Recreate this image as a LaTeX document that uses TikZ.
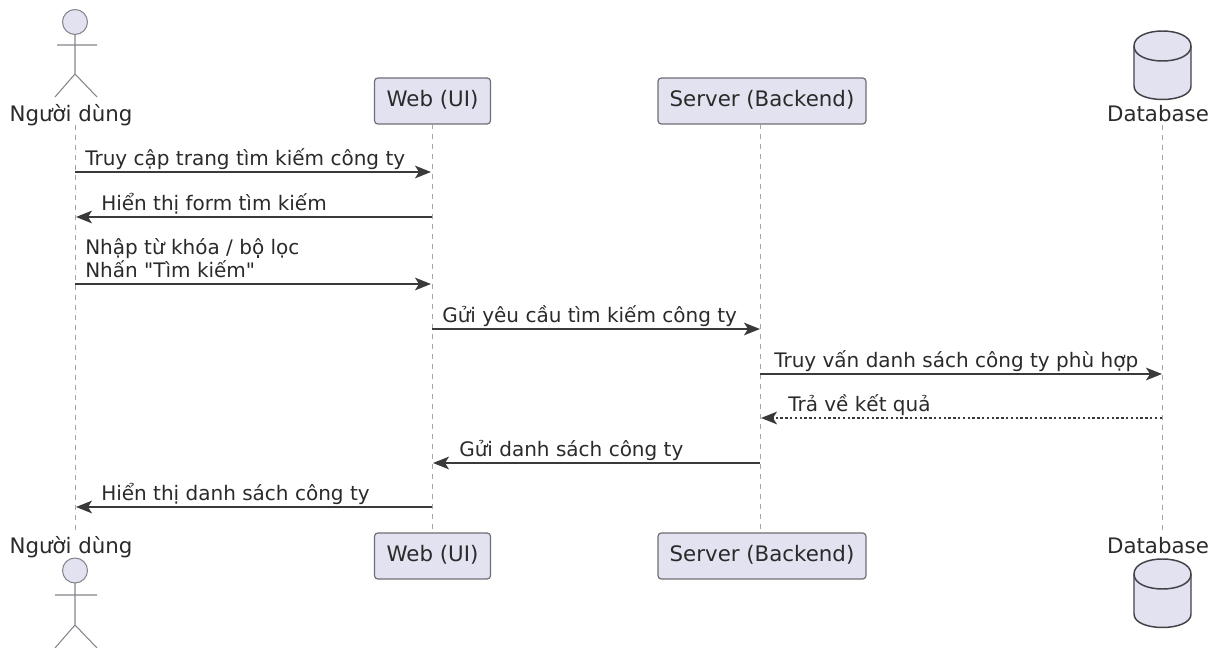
\documentclass[tikz,border=0pt]{standalone}
\usepackage{fontspec}
\setmainfont{DejaVu Sans}[Ligatures=TeXOff]
\usetikzlibrary{arrows.meta}
\definecolor{pfill}{HTML}{E2E2F0}
\definecolor{pline}{HTML}{6E6E78}
\definecolor{txt}{HTML}{2A2A2A}
\definecolor{msg}{HTML}{3A3A3A}
\tikzset{
  every node/.style={font=\fontsize{15pt}{18pt}\selectfont,text=txt,inner sep=0pt},
  plabel/.style={font=\fontsize{16pt}{19pt}\selectfont,anchor=center},
  pbox/.style={plabel,draw=pline,fill=pfill,rounded corners=2.5pt,line width=0.9pt,minimum height=34.5pt,text height=12pt,text depth=4pt},
  lifeline/.style={draw=gray!70,line width=0.6pt,dash pattern=on 3.75pt off 3.75pt},
  figline/.style={draw=pline!85,line width=0.8pt},
  msgarrow/.style={draw=msg,line width=0.9pt,-{Stealth[length=12pt,width=9.5pt,inset=3pt]}},
  retarrow/.style={msgarrow,dash pattern=on 1.8pt off 1.8pt},
  msglabel/.style={anchor=base west},
}
\begin{document}
\begin{tikzpicture}[x=0.75pt,y=-0.75pt]
\useasboundingbox (0,0) rectangle (1222,648);
% participants
\node[plabel] (uT) at (71,115) {Người dùng};
\node[pbox,minimum width=87pt] (wT) at (432.5,101) {Web (UI)};
\node[pbox,minimum width=156pt] (sT) at (762,101) {Server (Backend)};
\node[plabel] (dT) at (1158,113.5) {Database};
\node[plabel] (uB) at (71,547) {Người dùng};
\node[pbox,minimum width=87pt] (wB) at (432.5,556) {Web (UI)};
\node[pbox,minimum width=156pt] (sB) at (762,556) {Server (Backend)};
\node[plabel] (dB) at (1158,545.5) {Database};
% lifeline ends
\coordinate (uA) at (75,125); \coordinate (uZ) at (75,533);
\coordinate (wA) at (432,124); \coordinate (wZ) at (432,533);
\coordinate (sA) at (760,124); \coordinate (sZ) at (760,533);
\coordinate (dA) at (1162,125); \coordinate (dZ) at (1162,533);
\draw[lifeline] (uA) -- (uZ);
\draw[lifeline] (wA) -- (wZ);
\draw[lifeline] (sA) -- (sZ);
\draw[lifeline] (dA) -- (dZ);
% actor top
\draw[figline,fill=pfill] (75,22) circle (12.5);
\draw[figline] (75,34.5) -- (75,74) (57,45) -- (97,45) (55,97) -- (75,74) -- (97,97);
% actor bottom
\draw[figline,fill=pfill] (75,570.5) circle (12.5);
\draw[figline] (75,583) -- (75,625) (55,595) -- (97,595) (55,648) -- (75,625) -- (97,648);
% database top
\draw[pline!60!black,line width=1.1pt,fill=pfill] (1134,46) -- (1134,86) .. controls (1134,104) and (1191,104) .. (1191,86) -- (1191,46) .. controls (1191,26) and (1134,26) .. (1134,46) -- cycle;
\draw[pline!60!black,line width=1.1pt] (1134,46) .. controls (1134,66) and (1191,66) .. (1191,46);
% database bottom
\draw[pline!60!black,line width=1.1pt,fill=pfill] (1134,574) -- (1134,614) .. controls (1134,632) and (1191,632) .. (1191,614) -- (1191,574) .. controls (1191,554) and (1134,554) .. (1134,574) -- cycle;
\draw[pline!60!black,line width=1.1pt] (1134,574) .. controls (1134,594) and (1191,594) .. (1191,574);
% message anchors
\coordinate (u1) at (75,172); \coordinate (w1) at (431,172);
\coordinate (w2) at (432,217); \coordinate (u2) at (76,217);
\coordinate (u3) at (75,284); \coordinate (w3) at (431,284);
\coordinate (w4) at (432,329); \coordinate (s4) at (760,329);
\coordinate (s5) at (760,374); \coordinate (d5) at (1162,374);
\coordinate (d6) at (1162,418); \coordinate (s6) at (761,418);
\coordinate (s7) at (760,463); \coordinate (w7) at (433,463);
\coordinate (w8) at (432,507); \coordinate (u8) at (76,507);
\draw[msgarrow] (u1) -- (w1);
\draw[msgarrow] (w2) -- (u2);
\draw[msgarrow] (u3) -- (w3);
\draw[msgarrow] (w4) -- (s4);
\draw[msgarrow] (s5) -- (d5);
\draw[retarrow] (d6) -- (s6);
\draw[msgarrow] (s7) -- (w7);
\draw[msgarrow] (w8) -- (u8);
% labels
\node[msglabel] (m1) at (85,165.5) {Truy cập trang tìm kiếm công ty};
\node[msglabel] (m2) at (101,210.5) {Hiển thị form tìm kiếm};
\node[msglabel] (m3a) at (85,255) {Nhập từ khóa / bộ lọc};
\node[msglabel] (m3b) at (85,277.5) {Nhấn "Tìm kiếm"};
\node[msglabel] (m4) at (442,322.5) {Gửi yêu cầu tìm kiếm công ty};
\node[msglabel] (m5) at (774,367.5) {Truy vấn danh sách công ty phù hợp};
\node[msglabel] (m6) at (788,411.5) {Trả về kết quả};
\node[msglabel] (m7) at (459,456.5) {Gửi danh sách công ty};
\node[msglabel] (m8) at (101,500.5) {Hiển thị danh sách công ty};
\end{tikzpicture}
\end{document}
